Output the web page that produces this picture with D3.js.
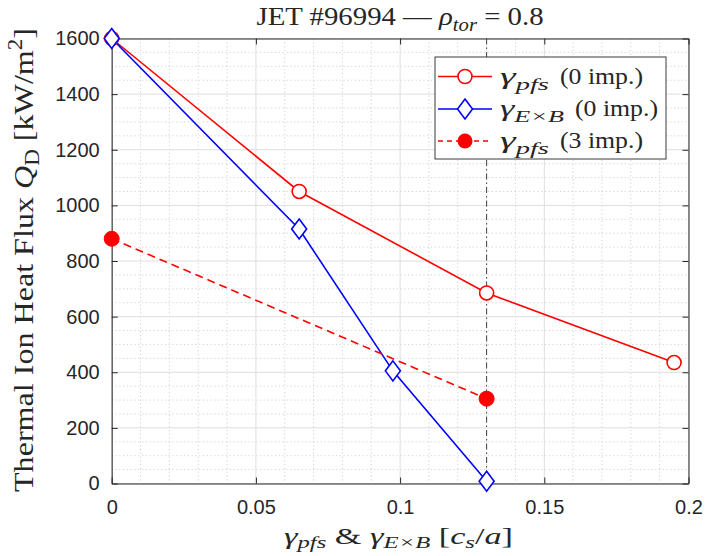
<!DOCTYPE html>
<html>
<head>
<meta charset="utf-8">
<script src="https://cdn.jsdelivr.net/npm/d3@7"></script>
<style>
html,body{margin:0;padding:0;background:#fff;}
svg{display:block;}
</style>
</head>
<body>
<script>
// ---- data ----
const xTicks = [0, 0.05, 0.1, 0.15, 0.2];
const xTickLabels = ["0", "0.05", "0.1", "0.15", "0.2"];
const yTicks = [0, 200, 400, 600, 800, 1000, 1200, 1400, 1600];
const yTickLabels = ["0", "200", "400", "600", "800", "1000", "1200", "1400", "1600"];

const xPfs0 = [0, 0.065, 0.13, 0.195];
const qPfs0 = [1600, 1050, 685, 435];
const xExB0 = [0, 0.065, 0.0975, 0.13];
const qExB0 = [1600, 915, 405, 8];
const xPfs3 = [0, 0.13];
const qPfs3 = [880, 305];
const xMarkLine = [0.13];

const W = 707, H = 556;
const M = {left: 111.7, right: 688.5, top: 38.5, bottom: 483.5};
const serif = "'Liberation Serif','Times New Roman',serif";
const sans = "'Liberation Sans',Arial,Helvetica,sans-serif";
const axisCol = "#262626";

const svg = d3.select("body").append("svg").attr("width", W).attr("height", H);

const x = d3.scaleLinear().domain([0, 0.2]).range([M.left, M.right]);
const y = d3.scaleLinear().domain([0, 1600]).range([M.bottom, M.top]);

// grid
const g = svg.append("g");
const xMinor = d3.range(0, 0.2001, 0.01).filter(v => Math.abs(v / 0.05 - Math.round(v / 0.05)) > 1e-6);
const yMinor = d3.range(0, 1601, 50).filter(v => v % 200 !== 0);
g.selectAll(".xmin").data(xMinor).join("line")
  .attr("x1", d => x(d)).attr("x2", d => x(d)).attr("y1", M.top).attr("y2", M.bottom)
  .attr("stroke", "#c6c6c6").attr("stroke-width", 0.8).attr("stroke-dasharray", "1.2,2.6");
g.selectAll(".ymin").data(yMinor).join("line")
  .attr("y1", d => y(d)).attr("y2", d => y(d)).attr("x1", M.left).attr("x2", M.right)
  .attr("stroke", "#c6c6c6").attr("stroke-width", 0.8).attr("stroke-dasharray", "1.2,2.6");
g.selectAll(".xmaj").data(xTicks).join("line")
  .attr("x1", d => x(d)).attr("x2", d => x(d)).attr("y1", M.top).attr("y2", M.bottom)
  .attr("stroke", "#dedede").attr("stroke-width", 1);
g.selectAll(".ymaj").data(yTicks).join("line")
  .attr("y1", d => y(d)).attr("y2", d => y(d)).attr("x1", M.left).attr("x2", M.right)
  .attr("stroke", "#dedede").attr("stroke-width", 1);

// axes
const xAxis = d3.axisBottom(x).tickValues(xTicks).tickFormat((d, i) => xTickLabels[i]).tickSizeInner(-6).tickSizeOuter(0).tickPadding(16);
const yAxis = d3.axisLeft(y).tickValues(yTicks).tickFormat((d, i) => yTickLabels[i]).tickSizeInner(-6).tickSizeOuter(0).tickPadding(12);
const xTop = d3.axisTop(x).tickValues(xTicks).tickFormat("").tickSizeInner(-6).tickSizeOuter(0);
const yRight = d3.axisRight(y).tickValues(yTicks).tickFormat("").tickSizeInner(-6).tickSizeOuter(0);

function styleAxis(sel) {
  sel.selectAll("path").attr("stroke", axisCol).attr("stroke-width", 1);
  sel.selectAll("line").attr("stroke", axisCol).attr("stroke-width", 1);
  sel.selectAll("text").attr("fill", axisCol).style("font-family", sans).style("font-size", "20px");
}
svg.append("g").attr("transform", `translate(0,${M.bottom})`).call(xAxis).call(styleAxis);
svg.append("g").attr("transform", `translate(${M.left},0)`).call(yAxis).call(styleAxis);
svg.append("g").attr("transform", `translate(0,${M.top})`).call(xTop).call(styleAxis);
svg.append("g").attr("transform", `translate(${M.right},0)`).call(yRight).call(styleAxis);

// vertical dash-dot line
svg.selectAll(".vl").data(xMarkLine).join("line")
  .attr("x1", d => x(d)).attr("x2", d => x(d)).attr("y1", M.top).attr("y2", M.bottom)
  .attr("stroke", "#404040").attr("stroke-width", 1).attr("stroke-dasharray", "6,3,1.5,3");

// lines
const lineGen = d3.line().x(d => x(d[0])).y(d => y(d[1]));
const pfs0 = d3.zip(xPfs0, qPfs0), exb0 = d3.zip(xExB0, qExB0), pfs3 = d3.zip(xPfs3, qPfs3);
svg.append("path").datum(pfs0).attr("d", lineGen).attr("fill", "none").attr("stroke", "#ff0000").attr("stroke-width", 1.6);
svg.append("path").datum(exb0).attr("d", lineGen).attr("fill", "none").attr("stroke", "#0000ff").attr("stroke-width", 1.6);
svg.append("path").datum(pfs3).attr("d", lineGen).attr("fill", "none").attr("stroke", "#ff0000").attr("stroke-width", 1.6).attr("stroke-dasharray", "8,5");

// markers
const diamond = (cx, cy) => `M${cx},${cy - 10}L${cx + 7.5},${cy}L${cx},${cy + 10}L${cx - 7.5},${cy}Z`;
svg.selectAll(".mp0").data(pfs0).join("circle")
  .attr("cx", d => x(d[0])).attr("cy", d => y(d[1])).attr("r", 7)
  .attr("fill", "#fff").attr("stroke", "#ff0000").attr("stroke-width", 1.6);
svg.selectAll(".me0").data(exb0).join("path")
  .attr("d", d => diamond(x(d[0]), y(d[1])))
  .attr("fill", "#fff").attr("stroke", "#0000ff").attr("stroke-width", 1.6);
svg.selectAll(".mp3").data(pfs3).join("circle")
  .attr("cx", d => x(d[0])).attr("cy", d => y(d[1])).attr("r", 7.5)
  .attr("fill", "#ff0000").attr("stroke", "#ff0000").attr("stroke-width", 1);

// rich text helper
function rich(sel, parts, size, subK) {
  const k = subK || 0.28;
  parts.forEach(p => {
    const t = sel.append("tspan").text(p.t);
    if (p.i) t.style("font-style", "italic");
    if (p.sub) t.attr("dy", size * k).style("font-size", (size * 0.72) + "px");
    if (p.sup) t.attr("dy", -size * 0.38).style("font-size", (size * 0.72) + "px");
    if (p.back) t.attr("dy", -size * k);
    if (p.backSup) t.attr("dy", size * 0.38);
  });
}

// legend
const lg = svg.append("g");
lg.append("rect").attr("x", 435).attr("y", 57).attr("width", 231).attr("height", 102)
  .attr("fill", "#fff").attr("stroke", axisCol).attr("stroke-width", 0.9);
const legItems = [
  {y: 76.5, color: "#ff0000", dash: null, marker: "circle", math: [{t: "γ", i: true}, {t: "pfs", i: true, sub: true}], mathW: 49, txt: "(0 imp.)", txtX: 560},
  {y: 109, color: "#0000ff", dash: null, marker: "diamond", math: [{t: "γ", i: true}, {t: "E×B", i: true, sub: true}], mathW: 64, txt: "(0 imp.)", txtX: 575},
  {y: 141, color: "#ff0000", dash: "5,4", marker: "filled", math: [{t: "γ", i: true}, {t: "pfs", i: true, sub: true}], mathW: 49, txt: "(3 imp.)", txtX: 560}
];
legItems.forEach(it => {
  lg.append("line").attr("x1", 438).attr("x2", 492).attr("y1", it.y).attr("y2", it.y)
    .attr("stroke", it.color).attr("stroke-width", 1.6).attr("stroke-dasharray", it.dash);
  if (it.marker === "circle") lg.append("circle").attr("cx", 465).attr("cy", it.y).attr("r", 7).attr("fill", "#fff").attr("stroke", it.color).attr("stroke-width", 1.6);
  if (it.marker === "diamond") lg.append("path").attr("d", diamond(465, it.y)).attr("fill", "#fff").attr("stroke", it.color).attr("stroke-width", 1.6);
  if (it.marker === "filled") lg.append("circle").attr("cx", 465).attr("cy", it.y).attr("r", 7.5).attr("fill", it.color);
  const t = lg.append("text").attr("x", 500).attr("y", it.y + 7).attr("textLength", it.mathW).attr("lengthAdjust", "spacingAndGlyphs")
    .style("font-family", serif).style("font-size", "23px").attr("fill", axisCol);
  rich(t, it.math, 23);
  lg.append("text").attr("x", it.txtX).attr("y", it.y + 7).attr("textLength", 83).attr("lengthAdjust", "spacingAndGlyphs")
    .style("font-family", serif).style("font-size", "23px").attr("fill", axisCol).text(it.txt);
});

// title
const title = svg.append("text").attr("x", (M.left + M.right) / 2).attr("y", 25).attr("text-anchor", "middle")
  .attr("textLength", 287).attr("lengthAdjust", "spacingAndGlyphs")
  .style("font-family", serif).style("font-size", "26px").attr("fill", axisCol);
rich(title, [{t: "JET #96994 — "}, {t: "ρ", i: true}, {t: "tor", i: true, sub: true}, {t: " = 0.8", back: true}], 26, 0.22);

// x label
const xl = svg.append("text").attr("x", 398.5).attr("y", 544).attr("text-anchor", "middle")
  .attr("textLength", 229).attr("lengthAdjust", "spacingAndGlyphs")
  .style("font-family", serif).style("font-size", "24px").attr("fill", axisCol);
rich(xl, [{t: "γ", i: true}, {t: "pfs", i: true, sub: true}, {t: " & ", back: true}, {t: "γ", i: true}, {t: "E×B", i: true, sub: true}, {t: " [", back: true}, {t: "c", i: true}, {t: "s", i: true, sub: true}, {t: "/", back: true}, {t: "a", i: true}, {t: "]"}], 24, 0.18);

// y label
const yl = svg.append("text").attr("transform", `translate(33,260) rotate(-90)`).attr("text-anchor", "middle")
  .attr("textLength", 464).attr("lengthAdjust", "spacingAndGlyphs")
  .style("font-family", serif).style("font-size", "28px").attr("fill", axisCol);
rich(yl, [{t: "Thermal Ion Heat Flux "}, {t: "Q", i: true}, {t: "D", sub: true}, {t: " [kW/m", back: true}, {t: "2", sup: true}, {t: "]", backSup: true}], 28, 0.22);
</script>
</body>
</html>
